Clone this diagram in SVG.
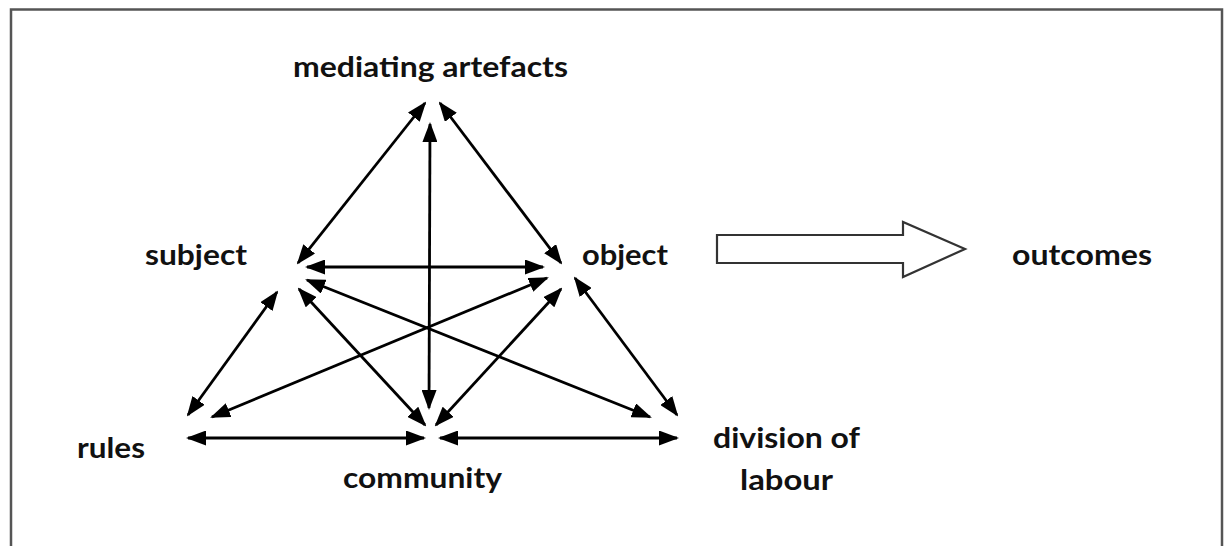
<svg xmlns="http://www.w3.org/2000/svg" width="1226" height="546" viewBox="0 0 1226 546">
<defs>
<marker id="ah" markerUnits="userSpaceOnUse" markerWidth="20" markerHeight="15" viewBox="0 0 20 15" refX="18" refY="7.5" orient="auto-start-reverse">
<path d="M0,0 L20,7.5 L0,15 z" fill="#000"/>
</marker>
<style>
.lbl{font-family:"Lato","Open Sans","Liberation Sans",sans-serif;font-weight:700;font-size:28px;fill:#111}
.c{stroke:#000;stroke-width:2.8;fill:none;marker-start:url(#ah);marker-end:url(#ah)}
</style>
</defs>
<rect x="0" y="0" width="1226" height="546" fill="#fff"/>
<rect x="11" y="9.5" width="1211" height="560" fill="none" stroke="#555" stroke-width="2.5"/>
<g id="connectors">
<line class="c" x1="425" y1="103" x2="298" y2="263"/>
<line class="c" x1="440" y1="103" x2="561" y2="263"/>
<line class="c" x1="430" y1="124" x2="429" y2="408"/>
<line class="c" x1="307" y1="267" x2="543" y2="267"/>
<line class="c" x1="307" y1="280" x2="650" y2="417"/>
<line class="c" x1="547" y1="278" x2="212" y2="417"/>
<line class="c" x1="277" y1="292" x2="188" y2="415"/>
<line class="c" x1="299" y1="289" x2="425" y2="425"/>
<line class="c" x1="561" y1="289" x2="436" y2="425"/>
<line class="c" x1="575" y1="278" x2="677" y2="415"/>
<line class="c" x1="188" y1="438" x2="424" y2="438"/>
<line class="c" x1="440" y1="438" x2="677" y2="438"/>
<path id="block-arrow" d="M717,235 L903,235 L903,222 L965,249 L903,277 L903,263 L717,263 Z" fill="#fff" stroke="#333" stroke-width="2.2"/>
</g>
<g id="node-mediating"><text class="lbl" x="293" y="77" textLength="275" lengthAdjust="spacingAndGlyphs">mediating artefacts</text></g>
<g id="node-subject"><text class="lbl" x="145" y="265" textLength="102" lengthAdjust="spacingAndGlyphs">subject</text></g>
<g id="node-object"><text class="lbl" x="582" y="265" textLength="86" lengthAdjust="spacingAndGlyphs">object</text></g>
<g id="node-outcomes"><text class="lbl" x="1012" y="265" textLength="140" lengthAdjust="spacingAndGlyphs">outcomes</text></g>
<g id="node-rules"><text class="lbl" x="77" y="458" textLength="68" lengthAdjust="spacingAndGlyphs">rules</text></g>
<g id="node-community"><text class="lbl" x="343" y="488" textLength="159" lengthAdjust="spacingAndGlyphs">community</text></g>
<g id="node-division"><text class="lbl" x="713" y="448" textLength="147" lengthAdjust="spacingAndGlyphs">division of</text><text class="lbl" x="740" y="490" textLength="93" lengthAdjust="spacingAndGlyphs">labour</text></g>
</svg>
